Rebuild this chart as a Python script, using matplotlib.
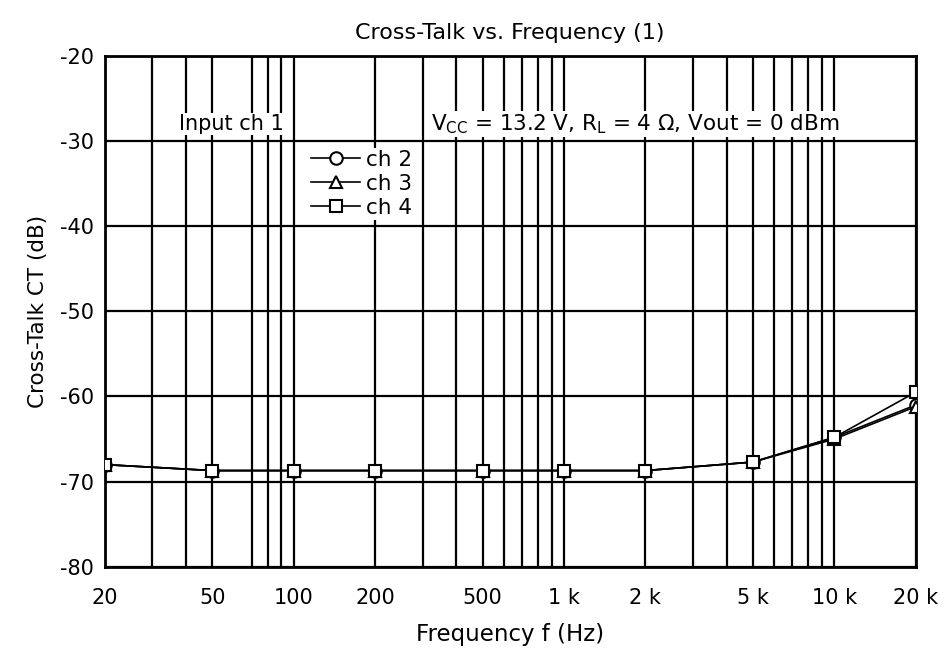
import matplotlib

matplotlib.use("Agg")

import matplotlib.pyplot as plt
from matplotlib.ticker import FixedLocator, NullFormatter

plt.rcParams["font.family"] = ["DejaVu Sans"]

# data
freq_hz = [20, 50, 100, 200, 500, 1000, 2000, 5000, 10000, 20000]
ch2_db = [-68.0, -68.7, -68.7, -68.7, -68.7, -68.7, -68.7, -67.7, -64.8, -61.0]
ch3_db = [-68.0, -68.7, -68.7, -68.7, -68.7, -68.7, -68.7, -67.7, -65.0, -61.2]
ch4_db = [-68.0, -68.7, -68.7, -68.7, -68.7, -68.7, -68.7, -67.7, -64.8, -59.5]

x_label_freqs = [20, 50, 100, 200, 500, 1000, 2000, 5000, 10000, 20000]
x_label_text = ["20", "50", "100", "200", "500", "1 k", "2 k", "5 k", "10 k", "20 k"]
# the original grid skips 60 Hz
x_minor_grid = [30, 40, 70, 80, 90, 300, 400, 600, 700, 800, 900,
                3000, 4000, 6000, 7000, 8000, 9000]
y_ticks = [-80, -70, -60, -50, -40, -30, -20]

fig = plt.figure(figsize=(9.44, 6.53), dpi=100)
ax = fig.add_axes([0.111, 0.132, 0.859, 0.7825])

ax.set_xscale("log")
ax.set_xlim(20, 20000)
ax.set_ylim(-80, -20)

ax.xaxis.set_major_locator(FixedLocator(x_label_freqs))
ax.set_xticklabels(x_label_text)
ax.xaxis.set_minor_locator(FixedLocator(x_minor_grid))
ax.xaxis.set_minor_formatter(NullFormatter())
ax.set_yticks(y_ticks)
ax.set_yticklabels([str(v) for v in y_ticks])

ax.tick_params(which="both", length=0, labelsize=15, colors="black")
ax.tick_params(axis="x", pad=15)
ax.tick_params(axis="y", pad=8)
ax.grid(True, which="both", color="black", linewidth=1.6)
ax.set_axisbelow(True)
for spine in ax.spines.values():
    spine.set_linewidth(2)

style = dict(color="black", linewidth=1.2, markersize=9,
             markerfacecolor="white", markeredgecolor="black", markeredgewidth=1.5)
ax.plot(freq_hz, ch2_db, marker="o", label="ch 2", zorder=3, **style)
ax.plot(freq_hz, ch3_db, marker="^", label="ch 3", zorder=4, **style)
ax.plot(freq_hz, ch4_db, marker="s", label="ch 4", zorder=5, **style)

box = dict(facecolor="white", edgecolor="none", pad=1)
ax.text(58.6, -28, "Input ch 1", ha="center", va="center", fontsize=15, bbox=box, zorder=6)
ax.text(1830, -28, "V$_{\\rm CC}$ = 13.2 V, R$_{\\rm L}$ = 4 \u03a9, Vout = 0 dBm",
        ha="center", va="center", fontsize=15.5, bbox=box, zorder=6)

leg = ax.legend(loc="upper left", bbox_to_anchor=(0.2515, 0.82), fontsize=15.5,
                frameon=True, facecolor="white", edgecolor="none", framealpha=1,
                fancybox=False, borderpad=0.1, handlelength=2.3, handletextpad=0.25,
                labelspacing=0.18, borderaxespad=0)
leg.set_zorder(7)

ax.set_title("Cross-Talk vs. Frequency (1)", fontsize=16, pad=12)
ax.set_xlabel("Frequency f (Hz)", fontsize=16.5, labelpad=11)
ax.set_ylabel("Cross-Talk CT (dB)", fontsize=15.5, labelpad=8)

fig.savefig("out.png", dpi=100)
